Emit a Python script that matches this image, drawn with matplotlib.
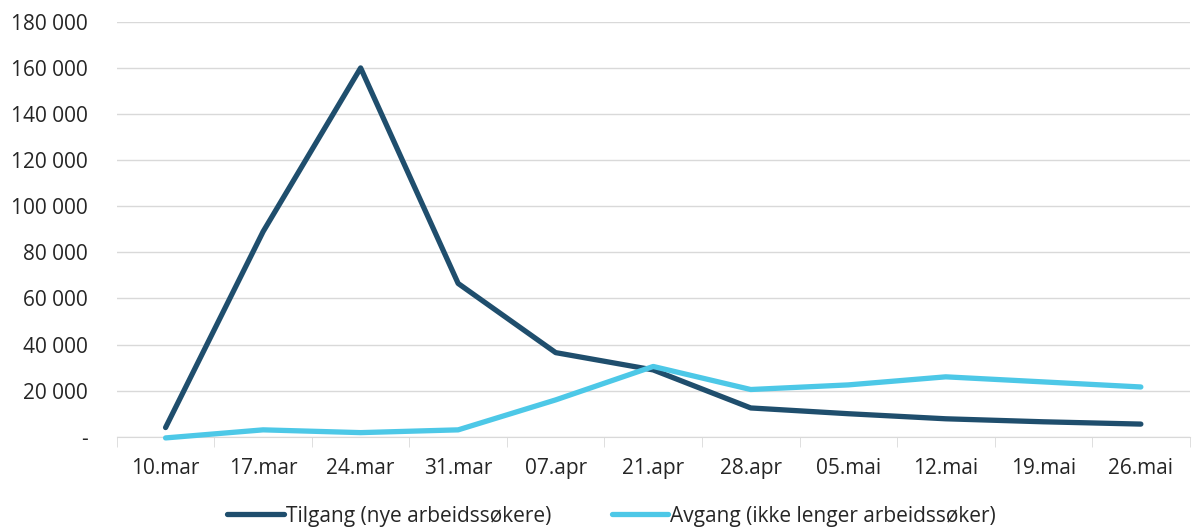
import matplotlib.pyplot as plt
import matplotlib.ticker as mticker
import numpy as np

plt.rcParams['font.family'] = ['Open Sans', 'DejaVu Sans']

# uker
uker = ['10.mar', '17.mar', '24.mar', '31.mar', '07.apr', '21.apr',
        '28.apr', '05.mai', '12.mai', '19.mai', '26.mai']
tilgang = [4000, 89000, 160000, 66500, 36500, 29000, 12500, 10000, 7800, 6500, 5500]
avgang = [-500, 3000, 1800, 3000, 16000, 30500, 20500, 22500, 26000, 23800, 21600]

fig = plt.figure(figsize=(11.92, 5.32), dpi=100)
ax = fig.add_axes([0.098, 0.179, 0.900, 0.780])

x = np.arange(len(uker))
ax.plot(x, tilgang, color='#1f4e6d', lw=3.8, solid_capstyle='round',
        label='Tilgang (nye arbeidssøkere)', clip_on=False, zorder=3)
ax.plot(x, avgang, color='#4dc8e7', lw=3.8, solid_capstyle='round',
        label='Avgang (ikke lenger arbeidssøker)', clip_on=False, zorder=3)

ax.set_xlim(-0.5, len(uker) - 0.5)
ax.set_ylim(0, 180000)
ax.set_yticks(np.arange(0, 180001, 20000))
ax.yaxis.set_major_formatter(mticker.FuncFormatter(
    lambda v, p: '-' if v == 0 else f'{int(v):,}'.replace(',', ' ')))
ax.set_xticks(x)
ax.set_xticklabels(uker)
ax.set_xticks(np.arange(-0.5, len(uker), 1), minor=True)

ax.grid(axis='y', color='#d9d9d9', lw=1)
ax.set_axisbelow(True)
for s in ['top', 'right', 'left']:
    ax.spines[s].set_visible(False)
ax.spines['bottom'].set_color('#d9d9d9')
ax.tick_params(axis='x', which='major', length=0, pad=15, labelsize=15, colors='#262626')
ax.tick_params(axis='x', which='minor', length=7, color='#d9d9d9')
ax.tick_params(axis='y', length=0, pad=21, labelsize=15, colors='#262626')

fig.legend(*ax.get_legend_handles_labels(), loc='center', bbox_to_anchor=(0.513, 0.03),
           ncol=2, frameon=False, fontsize=15, handlelength=2.7, handletextpad=0.1,
           columnspacing=2.9, labelcolor='#262626', borderaxespad=0, borderpad=0)

fig.savefig('out.png', dpi=100)
